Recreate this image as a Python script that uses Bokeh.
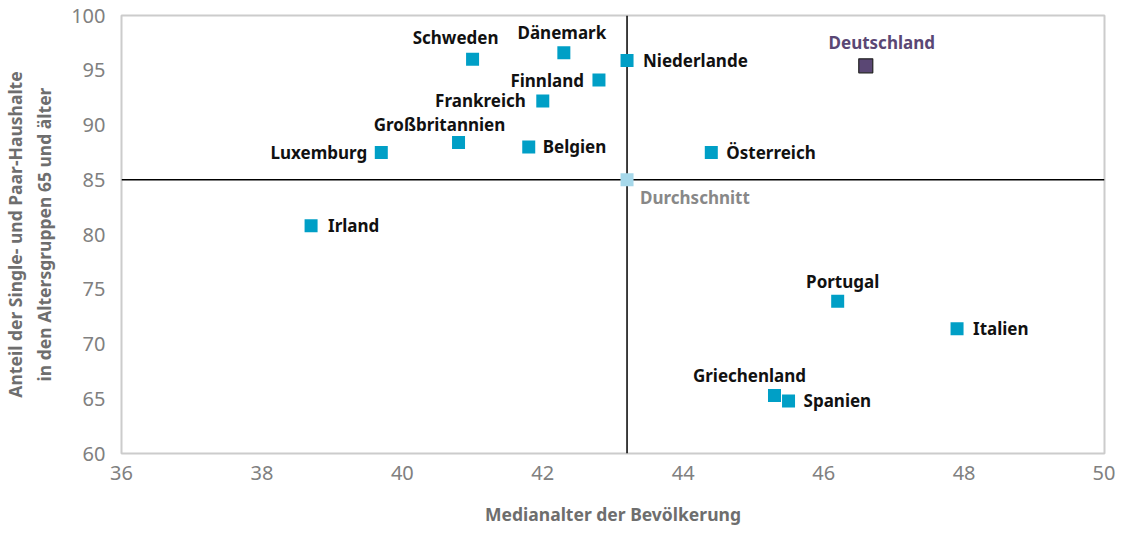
from bokeh.plotting import figure
from bokeh.models import ColumnDataSource, FixedTicker, Span
from bokeh.core.properties import value
from bokeh.embed import file_html
from bokeh.resources import INLINE

# ---- data ----
countries = ["Schweden", "Dänemark", "Niederlande", "Finnland", "Frankreich",
             "Großbritannien", "Luxemburg", "Belgien", "Österreich", "Irland",
             "Portugal", "Italien", "Griechenland", "Spanien"]
median_age = [41.0, 42.3, 43.2, 42.8, 42.0, 40.8, 39.7, 41.8, 44.4, 38.7,
              46.2, 47.9, 45.3, 45.5]
share_65 = [96.0, 96.6, 95.9, 94.1, 92.2, 88.4, 87.5, 88.0, 87.5, 80.8,
            73.9, 71.4, 65.3, 64.8]

germany_name = "Deutschland"
germany_age = 46.6
germany_share = 95.4

avg_name = "Durchschnitt"
avg_age = 43.2
avg_share = 85.0

x_ticks = [36, 38, 40, 42, 44, 46, 48, 50]
y_ticks = [60, 65, 70, 75, 80, 85, 90, 95, 100]

# ---- label layout (screen offsets, alignment) ----
label_layout = {
    "Schweden": (-17, -22, "center"),
    "Dänemark": (-2, -20, "center"),
    "Niederlande": (16, 0, "left"),
    "Finnland": (-15, 0, "right"),
    "Frankreich": (-17, 0, "right"),
    "Großbritannien": (-19, -18, "center"),
    "Luxemburg": (-14, 0, "right"),
    "Belgien": (14, 0, "left"),
    "Österreich": (15, 0, "left"),
    "Irland": (17, 0, "left"),
    "Portugal": (5, -20, "center"),
    "Italien": (16, 0, "left"),
    "Griechenland": (-25, -20, "center"),
    "Spanien": (15, 0, "left"),
}

BLUE = "#009fc6"
LIGHT = "#a6d8ea"
PURPLE = "#5a4774"
FONT = "Noto Sans"
LBL = "17px"

p = figure(width=1115, height=528, x_range=(36, 50), y_range=(60, 100),
           output_backend="svg", toolbar_location=None,
           min_border_left=120, min_border_right=11, min_border_top=15,
           min_border_bottom=72)
p.background_fill_color = "white"
p.border_fill_color = "white"
p.outline_line_color = "#cccccc"
p.outline_line_width = 2
p.xgrid.visible = False
p.ygrid.visible = False

p.xaxis.ticker = FixedTicker(ticks=x_ticks)
p.yaxis.ticker = FixedTicker(ticks=y_ticks)
for ax in (p.xaxis[0], p.yaxis[0]):
    ax.axis_line_color = None
    ax.major_tick_line_color = None
    ax.minor_tick_line_color = None
    ax.major_label_text_font = FONT
    ax.major_label_text_font_size = "20px"
    ax.major_label_text_color = "#808080"
    ax.axis_label_text_font = FONT
    ax.axis_label_text_font_size = "17.5px"
    ax.axis_label_text_font_style = "bold"
    ax.axis_label_text_color = "#6e6e6e"

p.xaxis.axis_label = "Medianalter der Bevölkerung"
p.xaxis.major_label_standoff = 6
p.xaxis.axis_label_standoff = 19
p.yaxis.axis_label = "Anteil der Single- und Paar-Haushalte\nin den Altersgruppen 65 und älter"
p.yaxis.major_label_standoff = 10
p.yaxis.axis_label_standoff = 12

p.add_layout(Span(location=avg_age, dimension="height", line_color="black",
                  line_width=1.5, level="underlay"))
p.add_layout(Span(location=avg_share, dimension="width", line_color="black",
                  line_width=1.5, level="underlay"))

src = ColumnDataSource(dict(
    x=median_age, y=share_65, name=countries,
    dx=[label_layout[c][0] for c in countries],
    dy=[label_layout[c][1] for c in countries],
    align=[label_layout[c][2] for c in countries],
))
p.scatter("x", "y", source=src, marker="square", size=13, fill_color=BLUE, line_color=None)
p.text("x", "y", text="name", source=src, x_offset="dx", y_offset="dy",
       text_align="align", text_baseline="middle", text_font=value(FONT),
       text_font_size=LBL, text_font_style="bold", text_color="#111111")

p.scatter([avg_age], [avg_share], marker="square", size=13, fill_color=LIGHT, line_color=None)
p.text([avg_age], [avg_share], text=[avg_name], x_offset=13, y_offset=18,
       text_align="left", text_baseline="middle", text_font=value(FONT),
       text_font_size=LBL, text_font_style="bold", text_color="#888888")

p.scatter([germany_age], [germany_share], marker="square", size=14, fill_color=PURPLE,
          line_color="#222222", line_width=1.2)
p.text([germany_age], [germany_share], text=[germany_name], x_offset=16, y_offset=-23,
       text_align="center", text_baseline="middle", text_font=value(FONT),
       text_font_size=LBL, text_font_style="bold", text_color=PURPLE)

open("out.html", "w").write(file_html(p, INLINE))
